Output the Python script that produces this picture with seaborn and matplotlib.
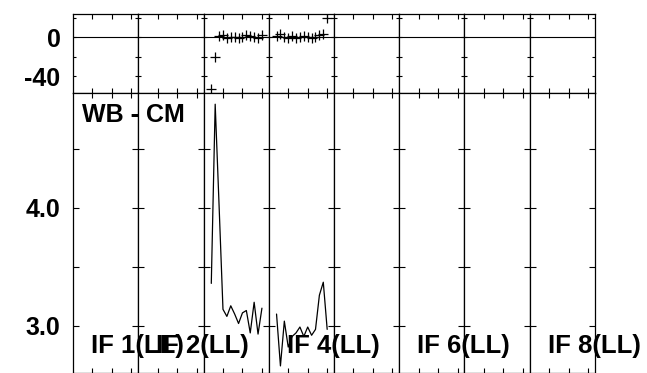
import pandas as pd
import matplotlib
matplotlib.use("Agg")
import matplotlib.pyplot as plt
import seaborn as sns

# channels that carry data in each IF panel
channels = list(range(2, 16))

# phase (deg) and amplitude for the two IFs that have data
if3_phase = [-53.5, -20.5, 1.5, 2.5, -1.0, 0.5, 0.0, -0.5, 0.5, 2.5, 1.5, 0.0, -1.0, 2.5]
if4_phase = [1.0, 3.0, 0.5, -0.5, 1.5, -1.0, 0.5, 1.0, 0.0, -1.5, 0.5, 2.0, 3.5, 19.0]
if3_amp = [3.36, 4.88, 4.02, 3.14, 3.08, 3.17, 3.10, 3.02, 3.11, 3.13, 2.94, 3.20, 2.93, 3.15]
if4_amp = [3.10, 2.66, 3.04, 2.82, 2.91, 2.94, 2.99, 2.91, 2.99, 2.92, 2.97, 3.26, 3.37, 2.97]

if_numbers = [1, 2, 3, 4, 5, 6, 7, 8]
labelled_ifs = [1, 2, 4, 6, 8]
pol = "LL"
baseline_name = "WB - CM"

phase_ticks = [0, -40]
phase_ticklabels = ["0", "-40"]
phase_minor = [20, -20]
amp_ticks = [3.0, 4.0]
amp_ticklabels = ["3.0", "4.0"]
amp_minor = [3.5, 4.5]

df = pd.DataFrame({
    "IF": [3] * len(channels) + [4] * len(channels),
    "channel": channels * 2,
    "phase": if3_phase + if4_phase,
    "amp": if3_amp + if4_amp,
})

sns.set_style("ticks")
plt.rcParams["font.family"] = ["Liberation Sans", "DejaVu Sans"]
plt.rcParams["font.weight"] = "bold"
plt.rcParams["axes.unicode_minus"] = False
for key in ("text.color", "xtick.color", "ytick.color", "axes.labelcolor", "axes.edgecolor"):
    plt.rcParams[key] = "black"

W, H = 647, 373
fig, axes = plt.subplots(2, 8, sharex=True, sharey="row", figsize=(W / 100, H / 100), dpi=100,
                         gridspec_kw=dict(height_ratios=[79, 280], wspace=0, hspace=0))
fig.subplots_adjust(left=73 / W, right=595 / W, top=1 - 14 / H, bottom=0)

for i, n in enumerate(if_numbers):
    top, bot = axes[0, i], axes[1, i]
    sub = df[df["IF"] == n]
    top.axhline(0, color="black", lw=0.8, zorder=1)
    if len(sub):
        sns.scatterplot(data=sub, x="channel", y="phase", ax=top, marker="+", color="black",
                        s=45, linewidth=0.9, legend=False, zorder=3)
        sns.lineplot(data=sub, x="channel", y="amp", ax=bot, color="black", lw=0.9, legend=False)
    for ax in (top, bot):
        ax.set_xlabel("")
        ax.set_ylabel("")
        ax.tick_params(axis="x", which="both", direction="in", top=True, bottom=True,
                       labelbottom=False, length=3.5, width=0.8, color="black")
        ax.tick_params(axis="y", which="both", direction="in", left=True, right=True,
                       labelleft=(i == 0), labelsize=18, labelcolor="black", pad=9,
                       width=0.8, color="black")
        for s in ax.spines.values():
            s.set_color("black")
            s.set_linewidth(0.9)
    top.tick_params(axis="y", which="both", length=2.5)
    bot.tick_params(axis="y", which="both", length=4.5)

axes[0, 0].set_xlim(0, 16.75)
axes[0, 0].set_xticks([5, 10, 15])
axes[0, 0].set_ylim(-57.4, 23.6)
axes[0, 0].set_yticks(phase_ticks, phase_ticklabels)
axes[0, 0].set_yticks(phase_minor, minor=True)
axes[1, 0].set_ylim(2.60, 4.975)
axes[1, 0].set_yticks(amp_ticks, amp_ticklabels)
axes[1, 0].set_yticks(amp_minor, minor=True)

for i, n in enumerate(if_numbers):
    if n in labelled_ifs:
        pos = axes[1, i].get_position()
        fig.text(pos.x0 + 18 / W, 20 / H, f"IF {n}({pol})", fontsize=18.5, color="black",
                 fontweight="bold", va="baseline", ha="left")

fig.text(82 / W, 1 - 122 / H, baseline_name, fontsize=18, fontweight="bold", color="black",
         va="baseline", ha="left")

fig.savefig("out.png", dpi=100)
